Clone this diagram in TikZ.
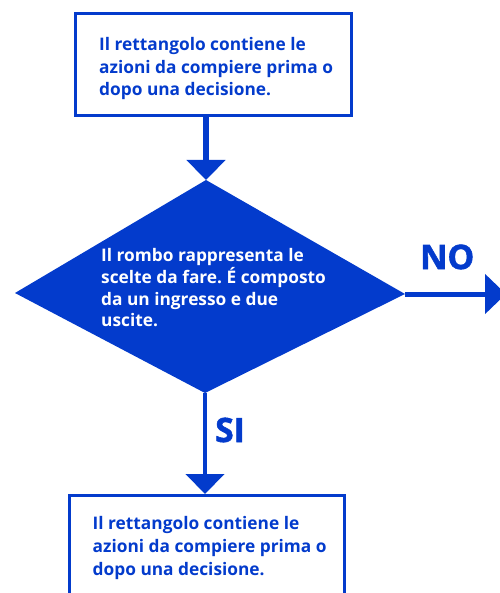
\documentclass[tikz,border=0pt]{standalone}
\usepackage{fontspec}
\setmainfont{Open Sans}
\newfontfamily\heavyfont[BoldFeatures={FakeBold=1.6}]{Open Sans}
\frenchspacing
\usetikzlibrary{arrows.meta}
\definecolor{fcblue}{RGB}{3,59,204}
\tikzset{
  framebox/.style={draw=fcblue, line width=3pt, rectangle, inner sep=0pt},
  boxtext/.style={text=fcblue, font=\fontsize{17.3}{22.8}\selectfont\bfseries, align=left, inner sep=0pt, anchor=north west},
  diatext/.style={text=white, font=\fontsize{17.3}{21.7}\selectfont\bfseries, align=left, inner sep=0pt, anchor=north west},
  biglabel/.style={text=fcblue, font=\heavyfont\fontsize{33.6}{36}\selectfont\bfseries, inner sep=0pt, anchor=base west},
  flowarrow/.style={draw=fcblue, -{Triangle[width=38pt,length=20pt]}}
}
\begin{document}
\begin{tikzpicture}[x=1pt,y=-1pt]
\useasboundingbox (0,0) rectangle (499,593);
% top box
\node[framebox, minimum width=276pt, minimum height=101.5pt] (box1) at (213,64.75) {};
\node[boxtext] (t1) at (99,37) {Il rettangolo contiene le\\azioni da compiere prima o\\dopo una decisione.};
% diamond
\coordinate (dtop) at (206,180);
\coordinate (dleft) at (15,293);
\coordinate (dright) at (405,294);
\coordinate (dbot) at (205,393);
\fill[fcblue] (dtop) -- (dright) -- (dbot) -- (dleft) -- cycle;
\node[diatext] (t2) at (101,248.5) {Il rombo rappresenta le\\scelte da fare. É composto\\da un ingresso e due\\uscite.};
% bottom box
\node[framebox, minimum width=275pt, minimum height=140pt] (box2) at (207,565.5) {};
\node[boxtext] (t3) at (92.5,516.5) {Il rettangolo contiene le\\azioni da compiere prima o\\dopo una decisione.};
% exit target
\coordinate (noend) at (506,294);
% connectors
\draw[flowarrow, line width=6pt] (box1.south -| dtop) -- (dtop);
\draw[flowarrow, line width=4.5pt] (dbot) -- (box2.north -| dbot);
\draw[flowarrow, line width=5pt, -{Triangle[width=39pt,length=21pt]}] (dright) -- (noend);
% labels
\node[biglabel] (no) at (420,269) {NO};
\node[biglabel] (si) at (215,442) {SI};
\end{tikzpicture}
\end{document}
